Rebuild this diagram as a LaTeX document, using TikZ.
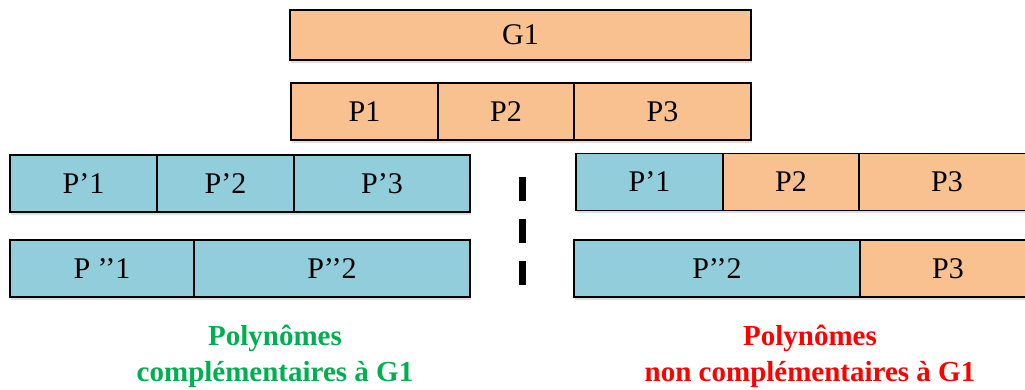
\documentclass[tikz,border=0pt]{standalone}
\usepackage{fontspec}
\setmainfont{Liberation Serif}
\usetikzlibrary{shadows}
\definecolor{orangeP}{HTML}{F9C090}
\definecolor{blueP}{HTML}{92CDDC}
\definecolor{greenT}{HTML}{00B050}
\definecolor{redT}{HTML}{FF0000}
\tikzset{
	cell/.style={rectangle, draw=black, line width=1.3pt, inner sep=0pt, minimum height=57pt,
		font=\fontsize{30}{34}\selectfont,
		drop shadow={shadow xshift=1pt, shadow yshift=-3pt, opacity=0.25}},
	ocell/.style={cell, fill=orangeP},
	bcell/.style={cell, fill=blueP},
	caption/.style={align=center, anchor=base, font=\fontsize{29}{36}\selectfont\bfseries}
}
\begin{document}
\begin{tikzpicture}[x=1pt, y=-1pt]
			\useasboundingbox (0,0) rectangle (1025,390);

			% G1 and its parts
			\draw node[ocell, minimum width=461pt, minimum height=50pt] (g1) at (520.5,35) {G1};
			\draw node[ocell, minimum width=147pt] (p1) at (364.5,111.5) {P1};
			\draw node[ocell, minimum width=136pt] (p2) at (506,111.5) {P2};
			\draw node[ocell, minimum width=177pt] (p3) at (662.5,111.5) {P3};

			% left side
			\draw node[bcell, minimum width=147pt] (l1) at (83.5,183.5) {P’1};
			\draw node[bcell, minimum width=137pt] (l2) at (225.5,183.5) {P’2};
			\draw node[bcell, minimum width=176pt] (l3) at (382,183.5) {P’3};
			\draw node[bcell, minimum width=184pt] (l4) at (102,268.5) {P ’’1};
			\draw node[bcell, minimum width=276pt] (l5) at (332,268.5) {P’’2};

			% right side
			\draw node[bcell, minimum width=147pt] (r1) at (649.5,182) {P’1};
			\draw node[ocell, minimum width=136pt] (r2) at (791,182) {P2};
			\draw node[ocell, minimum width=176pt] (r3) at (947,182) {P3};
			\draw node[bcell, minimum width=286pt] (r4) at (717,268.5) {P’’2};
			\draw node[ocell, minimum width=176pt] (r5) at (948,268.5) {P3};

			% separator
			\coordinate (s1) at (522,177);
			\coordinate (s2) at (522,285);
			\draw[line width=7pt, dash pattern=on 24pt off 18pt] (s1) -- (s2);

			\draw node[caption, text=greenT] (c1) at (275,381.7) {Polynômes\\complémentaires à G1};
			\draw node[caption, text=redT] (c2) at (810,381.7) {Polynômes\\non complémentaires à G1};
		\end{tikzpicture}
\end{document}
